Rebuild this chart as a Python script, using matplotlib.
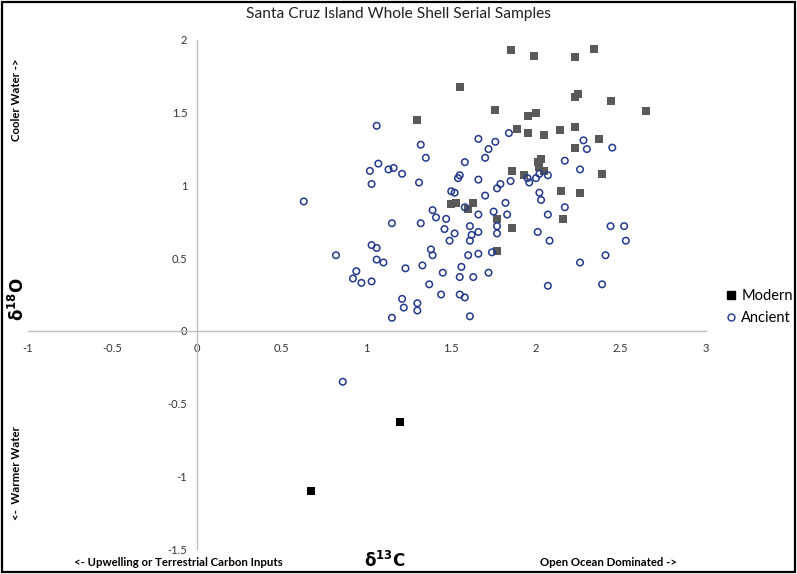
"""
Santa Cruz Island whole shell serial samples: d13C vs d18O scatter,
modern vs ancient shells, with the axes crossing at the origin.
"""

import matplotlib

matplotlib.use("Agg")

import matplotlib.pyplot as plt
from matplotlib.lines import Line2D
from matplotlib.patches import Rectangle

plt.rcParams["font.family"] = ["Lato", "DejaVu Sans"]
plt.rcParams["mathtext.fontset"] = "dejavusans"

# Modern shells (d13C, d18O)
modern_c13 = [1.55, 1.30, 1.85, 1.99, 2.23, 2.34, 2.25, 2.23, 2.44, 2.65,
              1.76, 1.95, 2.00, 1.89, 1.95, 2.05, 2.14, 2.23, 2.37, 2.23,
              2.03, 2.01, 2.02, 2.05, 1.86, 1.93, 2.39, 2.15, 2.26, 2.16,
              1.86, 1.77, 1.77, 1.50, 1.53, 1.63, 1.60]
modern_o18 = [1.68, 1.45, 1.93, 1.89, 1.88, 1.94, 1.63, 1.61, 1.58, 1.51,
              1.52, 1.48, 1.50, 1.39, 1.36, 1.35, 1.38, 1.40, 1.32, 1.26,
              1.18, 1.16, 1.13, 1.10, 1.10, 1.07, 1.08, 0.96, 0.95, 0.77,
              0.71, 0.77, 0.55, 0.87, 0.88, 0.88, 0.84]

# Modern shells with negative d18O (warm-water outliers)
modern_warm_c13 = [1.20, 0.67]
modern_warm_o18 = [-0.63, -1.10]

# Ancient shells (d13C, d18O)
ancient_c13 = [1.06, 1.32, 1.35, 1.58, 1.66, 1.07, 1.02, 1.13, 1.16, 1.21,
               1.03, 1.31, 1.55, 1.54, 1.66, 1.50, 1.52, 0.63, 1.84, 1.76,
               1.72, 1.70, 2.28, 2.30, 2.45, 2.17, 2.26, 2.02, 2.07, 1.95,
               1.96, 2.00, 1.85, 1.79, 1.77, 1.70, 2.02, 1.58, 1.39, 1.41,
               1.47, 1.15, 1.32, 1.46, 1.52, 1.61, 1.62, 1.61, 1.66, 1.66,
               1.49, 0.82, 1.03, 1.06, 1.06, 1.10, 1.38, 1.39, 1.23, 1.33,
               1.45, 1.56, 1.55, 1.63, 1.66, 1.60, 0.94, 0.92, 0.97, 1.03,
               1.37, 1.44, 1.55, 1.58, 1.21, 1.22, 1.30, 1.30, 1.15, 1.61,
               2.03, 1.82, 1.75, 1.83, 2.17, 2.07, 1.77, 1.77, 2.01, 2.08,
               2.44, 2.52, 2.53, 1.74, 2.41, 2.26, 1.72, 2.07, 2.39, 0.86]
ancient_o18 = [1.41, 1.28, 1.19, 1.16, 1.32, 1.15, 1.10, 1.11, 1.12, 1.08,
               1.01, 1.02, 1.07, 1.05, 1.04, 0.96, 0.95, 0.89, 1.36, 1.30,
               1.25, 1.19, 1.31, 1.25, 1.26, 1.17, 1.11, 1.08, 1.07, 1.05,
               1.02, 1.05, 1.03, 1.01, 0.98, 0.93, 0.95, 0.85, 0.83, 0.78,
               0.77, 0.74, 0.74, 0.70, 0.67, 0.72, 0.66, 0.62, 0.80, 0.68,
               0.62, 0.52, 0.59, 0.57, 0.49, 0.47, 0.56, 0.52, 0.43, 0.45,
               0.40, 0.44, 0.37, 0.37, 0.53, 0.52, 0.41, 0.36, 0.33, 0.34,
               0.32, 0.25, 0.25, 0.23, 0.22, 0.16, 0.19, 0.14, 0.09, 0.10,
               0.90, 0.88, 0.82, 0.80, 0.85, 0.80, 0.72, 0.67, 0.68, 0.62,
               0.72, 0.72, 0.62, 0.54, 0.52, 0.47, 0.40, 0.31, 0.32, -0.35]

x_ticks = [-1, -0.5, 0, 0.5, 1, 1.5, 2, 2.5, 3]
y_ticks = [-1.5, -1, -0.5, 0, 0.5, 1, 1.5, 2]

W, H = 797, 574
AXIS_GRAY = "#bfbfbf"
TICK_COLOR = "#333333"
MODERN_GRAY = "#595959"
ANCIENT_BLUE = "#22398c"


def fx(px):
    return px / W


def fy(py):
    return 1 - py / H


fig = plt.figure(figsize=(W / 100, H / 100), dpi=100)
ax = fig.add_axes([fx(27.5), fy(549), fx(705.5) - fx(27.5), fy(40) - fy(549)])

ax.scatter(modern_c13, modern_o18, marker="s", s=34, color=MODERN_GRAY,
           linewidths=0, zorder=3)
ax.scatter(modern_warm_c13, modern_warm_o18, marker="s", s=34, color="black",
           linewidths=0, zorder=3)
ax.scatter(ancient_c13, ancient_o18, marker="o", s=22, facecolors="none",
           edgecolors=ANCIENT_BLUE, linewidths=1.1, zorder=4)

ax.set_xlim(-1, 3)
ax.set_ylim(-1.5, 2)
ax.set_xticks(x_ticks)
ax.set_yticks(y_ticks)
ax.set_xticklabels([f"{t:g}" for t in x_ticks])
ax.set_yticklabels([f"{t:g}" for t in y_ticks])

# axes cross at the origin, Excel style
ax.spines["left"].set_position(("data", 0))
ax.spines["bottom"].set_position(("data", 0))
for side in ("top", "right"):
    ax.spines[side].set_visible(False)
for side in ("left", "bottom"):
    ax.spines[side].set_color(AXIS_GRAY)
    ax.spines[side].set_linewidth(1.0)
ax.tick_params(axis="both", length=0, labelsize=8, colors=TICK_COLOR)
ax.tick_params(axis="x", pad=9)
ax.tick_params(axis="y", pad=7)
ax.patch.set_visible(False)

fig.text(0.5, fy(14), "Santa Cruz Island Whole Shell Serial Samples",
         ha="center", va="center", fontsize=11.2, color="#222222")

# axis captions
fig.text(fx(178), fy(562), "<- Upwelling or Terrestrial Carbon Inputs",
         ha="center", va="center", fontsize=8.2, fontweight="bold")
fig.text(fx(608), fy(562), "Open Ocean Dominated ->",
         ha="center", va="center", fontsize=8.2, fontweight="bold")
fig.text(fx(385), fy(560), r"$\mathbf{δ^{13}C}$",
         ha="center", va="center", fontsize=12)
fig.text(fx(17), fy(100), "Cooler Water ->", rotation=90,
         ha="center", va="center", fontsize=8.2, fontweight="bold")
fig.text(fx(17), fy(473), "<-  Warmer Water", rotation=90,
         ha="center", va="center", fontsize=8.2, fontweight="bold")
fig.text(fx(17), fy(299), r"$\mathbf{δ^{18}O}$", rotation=90,
         ha="center", va="center", fontsize=12)

handles = [
    Line2D([], [], linestyle="none", marker="s", markersize=6,
           color="black", label="Modern"),
    Line2D([], [], linestyle="none", marker="o", markersize=5,
           markerfacecolor="none", markeredgecolor=ANCIENT_BLUE,
           markeredgewidth=1.0, label="Ancient"),
]
fig.legend(handles=handles, loc="center left",
           bbox_to_anchor=(fx(726), fy(307)), frameon=False,
           handlelength=0.7, handletextpad=0.35, labelspacing=0.55,
           borderpad=0, borderaxespad=0, fontsize=10.5)

# black frame around the whole figure
fig.patches.append(Rectangle((0.003, 0.003), 0.994, 0.994,
                             transform=fig.transFigure, fill=False,
                             edgecolor="black", linewidth=1.6))

fig.savefig("out.png", dpi=100)
